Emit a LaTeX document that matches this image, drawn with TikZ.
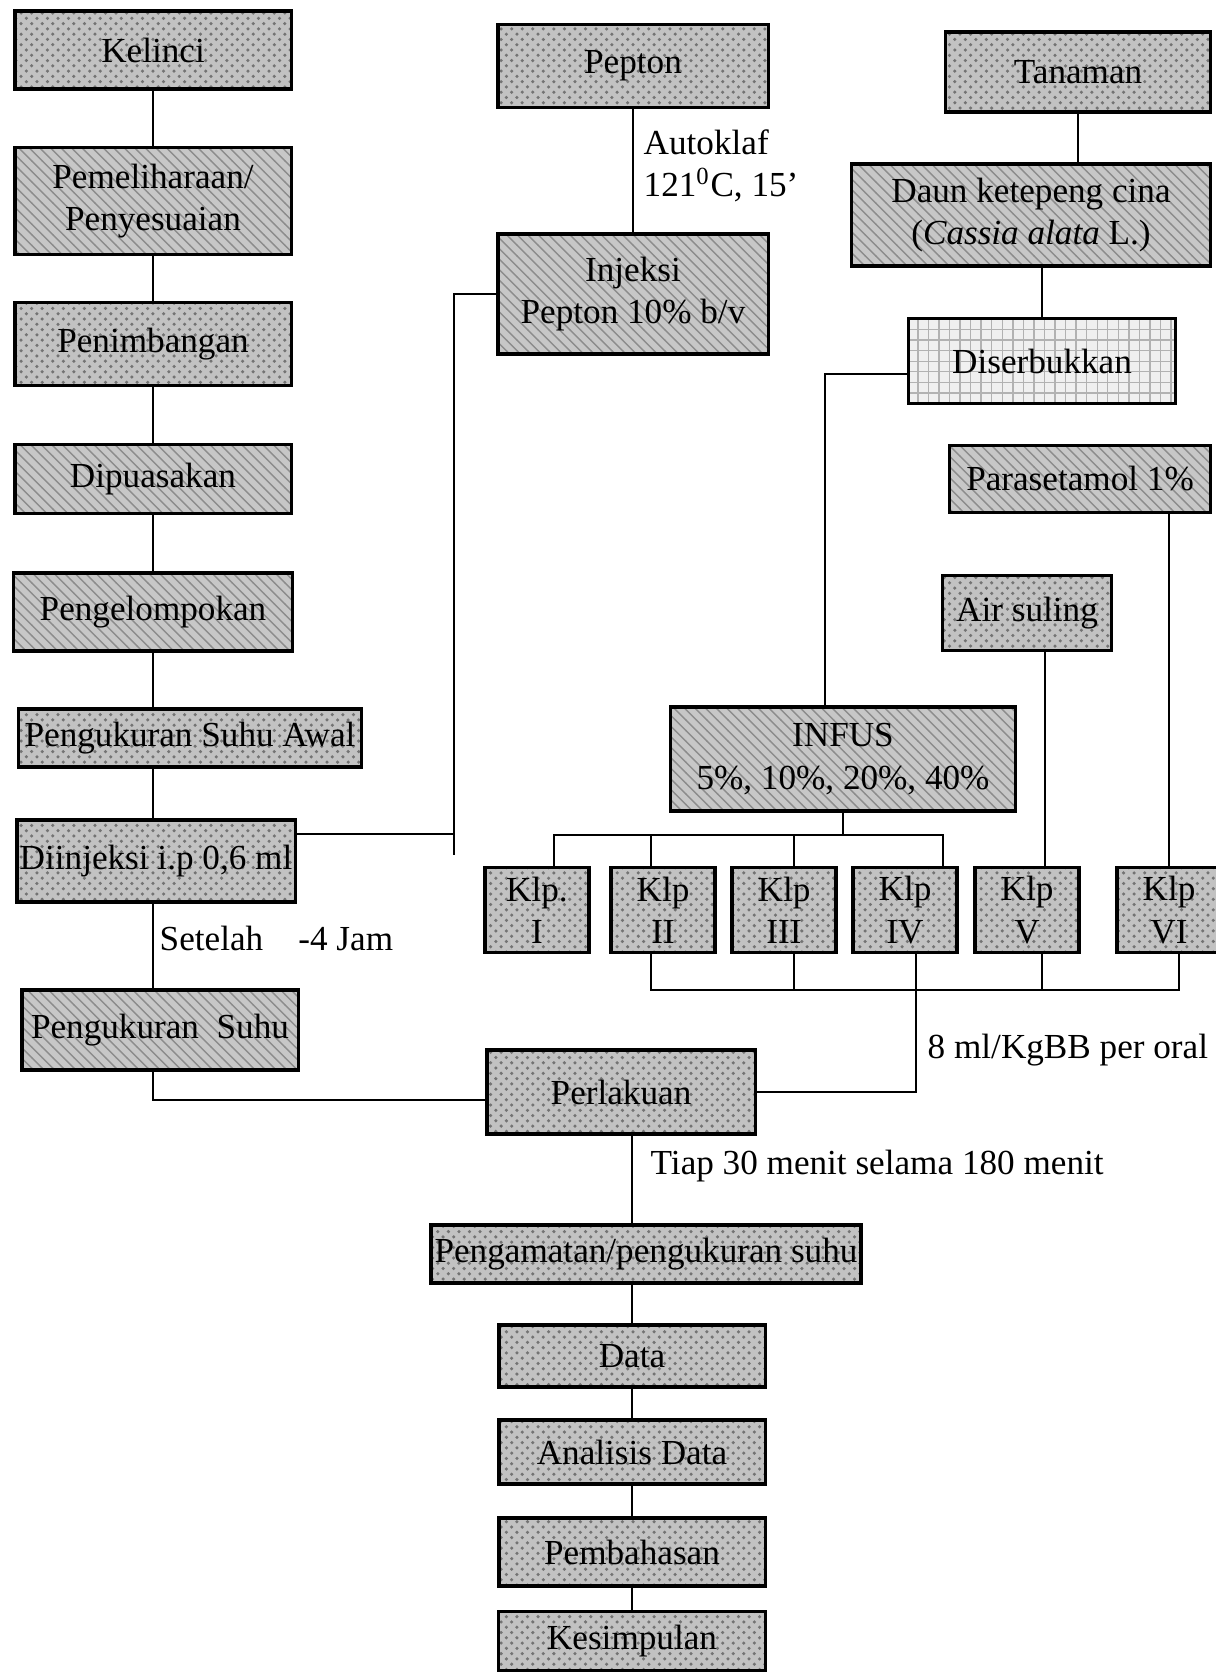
\documentclass[tikz,border=0pt]{standalone}
\usepackage{fontspec}
\setmainfont{Liberation Serif}
\usetikzlibrary{patterns, calc}

\tikzset{
  kotak/.style={draw, line width=0.9pt, rectangle, align=center, inner sep=1pt,
    preaction={fill=black!24}, pattern=crosshatch dots, pattern color=black!55,
    font=\fontsize{10}{12}\selectfont},
  kotakgaris/.style={draw, line width=0.9pt, rectangle, align=center, inner sep=1pt,
    preaction={fill=black!22}, pattern=north west lines, pattern color=black!45,
    font=\fontsize{10}{12}\selectfont},
  kotakgrid/.style={draw, line width=0.9pt, rectangle, align=center, inner sep=1pt,
    preaction={fill=black!6}, pattern=grid, pattern color=black!30,
    font=\fontsize{10}{12}\selectfont},
  klp/.style={kotak, minimum width=1.04cm, minimum height=0.85cm},
  garis/.style={semithick},
  ket/.style={anchor=west, align=left, inner sep=0pt, font=\fontsize{10}{12}\selectfont}
}

\begin{document}
\begin{tikzpicture}[x=0.01cm,y=-0.01cm]
    \useasboundingbox (0,0) rectangle (1215,1680);

    % kolom kiri: hewan uji
    \node[kotak, minimum width=2.76cm, minimum height=0.78cm] (kelinci) at (153,50) {Kelinci};
    \node[kotakgaris, minimum width=2.76cm, minimum height=1.07cm] (pemeliharaan) at (153,201) {Pemeliharaan/\\Penyesuaian};
    \node[kotak, minimum width=2.76cm, minimum height=0.83cm] (penimbangan) at (153,344) {Penimbangan};
    \node[kotakgaris, minimum width=2.76cm, minimum height=0.69cm] (dipuasakan) at (153,479) {Dipuasakan};
    \node[kotakgaris, minimum width=2.79cm, minimum height=0.78cm] (pengelompokan) at (153,612) {Pengelompokan};
    \node[kotak, minimum width=3.43cm, minimum height=0.58cm] (awal) at (190,738) {Pengukuran Suhu Awal};
    \node[kotak, minimum width=2.78cm, minimum height=0.82cm, inner xsep=0pt] (diinjeksi) at (156,861) {Diinjeksi i.p 0,6 ml};
    \node[kotakgaris, minimum width=2.76cm, minimum height=0.80cm] (suhu) at (160,1030) {Pengukuran\ \ Suhu};

    \draw[garis] (kelinci) -- (pemeliharaan) -- (penimbangan) -- (dipuasakan) -- (pengelompokan);
    \draw[garis] (pengelompokan.south) -- (pengelompokan.south |- awal.north);
    \draw[garis] (pengelompokan.south |- awal.south) -- (pengelompokan.south |- diinjeksi.north);
    \draw[garis] (pengelompokan.south |- diinjeksi.south) -- (pengelompokan.south |- suhu.north);
    \node[ket] (setelah) at (159,938) {Setelah\quad -4 Jam};

    % kolom tengah: pepton
    \node[kotak, minimum width=2.70cm, minimum height=0.83cm] (pepton) at (633,66) {Pepton};
    \node[kotakgaris, minimum width=2.70cm, minimum height=1.20cm] (injeksi) at (633,294) {Injeksi\\Pepton 10\% b/v};
    \draw[garis] (pepton) -- (injeksi);
    \node[ket] (autoklaf) at (643,166) {Autoklaf\\121\textsuperscript{0}C, 15’};

    \coordinate (ujung) at (454,855);
    \draw[garis] (injeksi.west) -| (ujung);
    \draw[garis] ($(diinjeksi.east)+(0,-27)$) -| (ujung);

    % kolom kanan: tanaman
    \node[kotak, minimum width=2.65cm, minimum height=0.80cm] (tanaman) at (1078,72) {Tanaman};
    \node[kotakgaris, minimum width=3.59cm, minimum height=1.02cm] (daun) at (1031,215) {Daun ketepeng cina\\(\textit{Cassia alata} L.)};
    \node[kotakgrid, minimum width=2.67cm, minimum height=0.85cm] (diserbukkan) at (1042,361) {Diserbukkan};
    \node[kotakgaris, minimum width=2.61cm, minimum height=0.67cm] (parasetamol) at (1080,479) {Parasetamol 1\%};
    \node[kotak, minimum width=1.69cm, minimum height=0.75cm] (airsuling) at (1027,613) {Air suling};
    \node[kotakgaris, minimum width=3.45cm, minimum height=1.04cm] (infus) at (843,759) {INFUS\\5\%, 10\%, 20\%, 40\%};

    \draw[garis] (tanaman.south) -- (tanaman.south |- daun.north);
    \draw[garis] (diserbukkan.north |- daun.south) -- (diserbukkan.north);
    \draw[garis] ($(diserbukkan.west)+(0,13)$) -| ($(infus.north)+(-18,0)$);

    % kelompok perlakuan
    \foreach \k/\x/\isi in {1/537/{Klp.\\I}, 2/663/{Klp\\II}, 3/784/{Klp\\III},
                            4/905/{Klp\\IV}, 5/1027/{Klp\\V}, 6/1169/{Klp\\VI}}
        \node[klp] (klp\k) at (\x,910) {\isi};

    \coordinate (bagi) at ($(infus.south)+(0,22)$);
    \draw[garis] (infus.south) -- (bagi);
    \foreach \k/\dx in {1/17, 2/-12, 3/10, 4/38}
        \draw[garis] ($(klp\k.north)+(\dx,0)$) |- (bagi);
    \draw[garis] ($(airsuling.south)+(18,0)$) -- ($(klp5.north)+(18,0)$);
    \draw[garis] (klp6.north |- parasetamol.south) -- (klp6.north);

    \coordinate (gabung) at ($(klp4.south)+(11,36)$);
    \foreach \k/\dx in {2/-12, 3/10, 5/15, 6/10}
        \draw[garis] ($(klp\k.south)+(\dx,0)$) |- (gabung);

    % kolom bawah: pengamatan
    \node[kotak, minimum width=2.68cm, minimum height=0.84cm] (perlakuan) at (621,1092) {Perlakuan};
    \node[kotak, minimum width=4.28cm, minimum height=0.58cm] (pengamatan) at (646,1254) {Pengamatan/pengukuran suhu};
    \node[kotak, minimum width=2.66cm, minimum height=0.62cm] (data) at (632,1356) {Data};
    \node[kotak, minimum width=2.66cm, minimum height=0.64cm] (analisis) at (632,1452) {Analisis Data};
    \node[kotak, minimum width=2.66cm, minimum height=0.68cm] (pembahasan) at (632,1552) {Pembahasan};
    \node[kotak, minimum width=2.67cm, minimum height=0.59cm] (kesimpulan) at (632,1641) {Kesimpulan};

    \draw[garis] ($(klp4.south)+(11,0)$) |- (perlakuan.east);
    \draw[garis] (pengelompokan.south |- suhu.south) |- ($(perlakuan.west)+(0,8)$);
    \node[ket] (dosis) at (927,1050) {8 ml/KgBB per oral};

    \draw[garis] (data.north |- perlakuan.south) -- (data.north |- pengamatan.north);
    \node[ket] (tiap) at (650,1166) {Tiap 30 menit selama 180 menit};
    \draw[garis] (data.north |- pengamatan.south) -- (data.north);
    \draw[garis] (data) -- (analisis) -- (pembahasan) -- (kesimpulan);
\end{tikzpicture}
\end{document}
